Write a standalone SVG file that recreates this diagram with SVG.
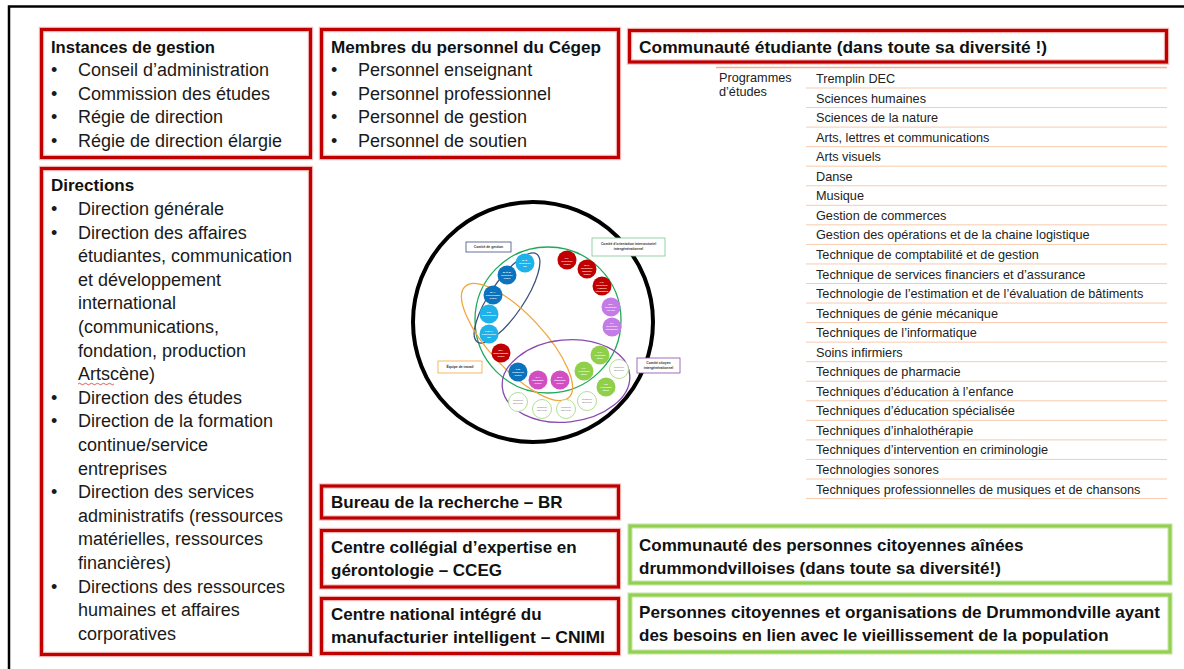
<svg xmlns="http://www.w3.org/2000/svg" width="1184" height="669" viewBox="0 0 1184 669">
<defs>
<style>
.halo{fill:none;stroke:#f3c3c3;stroke-width:5.5}
.red{fill:none;stroke:#c00000;stroke-width:3.2}
.ghalo{fill:none;stroke:#d6ecc2;stroke-width:5.5}
.green{fill:none;stroke:#92d050;stroke-width:3.2}
.t{font-family:"Liberation Sans",Arial,sans-serif;font-size:18px;fill:#1a1a1a}
.h{font-family:"Liberation Sans",Arial,sans-serif;font-size:17px;font-weight:bold;fill:#111}
.tb{font-family:"Liberation Sans",Arial,sans-serif;font-size:12.7px;fill:#222}
.sep{stroke:#f8cbad;stroke-width:1}
.mini{font-family:"Liberation Sans",Arial,sans-serif;font-size:2.5px;fill:#fff;text-anchor:middle;font-weight:bold}
.minid{font-family:"Liberation Sans",Arial,sans-serif;font-size:2.4px;fill:#666;text-anchor:middle}
.lab{font-family:"Liberation Sans",Arial,sans-serif;font-size:3.4px;fill:#333;text-anchor:middle;font-weight:bold}
</style>
</defs>
<rect width="1184" height="669" fill="#fff"/>
<path d="M9,669 V6.5 H1184" fill="none" stroke="#000" stroke-width="2.5"/>

<g id="instances">
<rect class="halo" x="41.5" y="29.5" width="269" height="128"/>
<rect class="red" x="41.5" y="29.5" width="269" height="128"/>
<text class="h" x="51" y="52.5" textLength="164" lengthAdjust="spacingAndGlyphs">Instances de gestion</text>
<g class="t">
<text x="51" y="76">•</text><text x="78" y="76">Conseil d’administration</text>
<text x="51" y="99.5">•</text><text x="78" y="99.5">Commission des études</text>
<text x="51" y="123">•</text><text x="78" y="123">Régie de direction</text>
<text x="51" y="146.5">•</text><text x="78" y="146.5">Régie de direction élargie</text>
</g>
</g>

<g id="directions">
<rect class="halo" x="41.5" y="168.5" width="269" height="486"/>
<rect class="red" x="41.5" y="168.5" width="269" height="486"/>
<text class="h" x="51" y="191">Directions</text>
<g class="t">
<text x="51" y="215">•</text><text x="78" y="215">Direction générale</text>
<text x="51" y="238.6">•</text><text x="78" y="238.6">Direction des affaires</text>
<text x="78" y="262.2">étudiantes, communication</text>
<text x="78" y="285.8">et développement</text>
<text x="78" y="309.4">international</text>
<text x="78" y="333">(communications,</text>
<text x="78" y="356.6">fondation, production</text>
<text x="78" y="380.2">Artscène)</text>
<text x="51" y="403.8">•</text><text x="78" y="403.8">Direction des études</text>
<text x="51" y="427.4">•</text><text x="78" y="427.4">Direction de la formation</text>
<text x="78" y="451">continue/service</text>
<text x="78" y="474.6">entreprises</text>
<text x="51" y="498.2">•</text><text x="78" y="498.2">Direction des services</text>
<text x="78" y="521.8">administratifs (ressources</text>
<text x="78" y="545.4">matérielles, ressources</text>
<text x="78" y="569">financières)</text>
<text x="51" y="592.6">•</text><text x="78" y="592.6">Directions des ressources</text>
<text x="78" y="616.2">humaines et affaires</text>
<text x="78" y="639.8">corporatives</text>
</g>
<path d="M78,384 q1.5,-1.5 3,0 t3,0 t3,0 t3,0 t3,0 t3,0 t3,0 t3,0 t3,0 t3,0 t3,0 t3,0" fill="none" stroke="#e03030" stroke-width="0.8"/>
</g>

<g id="membres">
<rect class="halo" x="321.5" y="29.5" width="297" height="128"/>
<rect class="red" x="321.5" y="29.5" width="297" height="128"/>
<text class="h" x="331" y="52.5" textLength="270" lengthAdjust="spacingAndGlyphs">Membres du personnel du Cégep</text>
<g class="t">
<text x="331" y="76">•</text><text x="358" y="76">Personnel enseignant</text>
<text x="331" y="99.5">•</text><text x="358" y="99.5">Personnel professionnel</text>
<text x="331" y="123">•</text><text x="358" y="123">Personnel de gestion</text>
<text x="331" y="146.5">•</text><text x="358" y="146.5">Personnel de soutien</text>
</g>
</g>

<g id="etudiants">
<rect class="halo" x="629.5" y="30.5" width="537" height="31.5"/>
<rect class="red" x="629.5" y="30.5" width="537" height="31.5"/>
<text class="h" x="639" y="52.5" textLength="408" lengthAdjust="spacingAndGlyphs">Communauté étudiante (dans toute sa diversité !)</text>
</g>

<g id="programmes">
<line x1="716" y1="67.5" x2="1167" y2="67.5" stroke="#f4b183" stroke-width="1.5"/>
<text class="tb" x="719" y="82">Programmes</text>
<text class="tb" x="719" y="96">d’études</text>
<g class="tb">
<text x="816" y="83">Tremplin DEC</text>
<text x="816" y="102.55">Sciences humaines</text>
<text x="816" y="122.1">Sciences de la nature</text>
<text x="816" y="141.65">Arts, lettres et communications</text>
<text x="816" y="161.2">Arts visuels</text>
<text x="816" y="180.75">Danse</text>
<text x="816" y="200.3">Musique</text>
<text x="816" y="219.85">Gestion de commerces</text>
<text x="816" y="239.4">Gestion des opérations et de la chaine logistique</text>
<text x="816" y="258.95">Technique de comptabilité et de gestion</text>
<text x="816" y="278.5">Technique de services financiers et d’assurance</text>
<text x="816" y="298.05">Technologie de l’estimation et de l’évaluation de bâtiments</text>
<text x="816" y="317.6">Techniques de génie mécanique</text>
<text x="816" y="337.15">Techniques de l’informatique</text>
<text x="816" y="356.7">Soins infirmiers</text>
<text x="816" y="376.25">Techniques de pharmacie</text>
<text x="816" y="395.8">Techniques d’éducation à l’enfance</text>
<text x="816" y="415.35">Techniques d’éducation spécialisée</text>
<text x="816" y="434.9">Techniques d’inhalothérapie</text>
<text x="816" y="454.45">Techniques d’intervention en criminologie</text>
<text x="816" y="474">Technologies sonores</text>
<text x="816" y="493.55">Techniques professionnelles de musiques et de chansons</text>
</g>
<g class="sep">
<line x1="806" y1="88" x2="1167" y2="88"/>
<line x1="806" y1="107.55" x2="1167" y2="107.55"/>
<line x1="806" y1="127.1" x2="1167" y2="127.1"/>
<line x1="806" y1="146.65" x2="1167" y2="146.65"/>
<line x1="806" y1="166.2" x2="1167" y2="166.2"/>
<line x1="806" y1="185.75" x2="1167" y2="185.75"/>
<line x1="806" y1="205.3" x2="1167" y2="205.3"/>
<line x1="806" y1="224.85" x2="1167" y2="224.85"/>
<line x1="806" y1="244.4" x2="1167" y2="244.4"/>
<line x1="806" y1="263.95" x2="1167" y2="263.95"/>
<line x1="806" y1="283.5" x2="1167" y2="283.5"/>
<line x1="806" y1="303.05" x2="1167" y2="303.05"/>
<line x1="806" y1="322.6" x2="1167" y2="322.6"/>
<line x1="806" y1="342.15" x2="1167" y2="342.15"/>
<line x1="806" y1="361.7" x2="1167" y2="361.7"/>
<line x1="806" y1="381.25" x2="1167" y2="381.25"/>
<line x1="806" y1="400.8" x2="1167" y2="400.8"/>
<line x1="806" y1="420.35" x2="1167" y2="420.35"/>
<line x1="806" y1="439.9" x2="1167" y2="439.9"/>
<line x1="806" y1="459.45" x2="1167" y2="459.45"/>
<line x1="806" y1="479" x2="1167" y2="479"/>
<line x1="806" y1="498.55" x2="1167" y2="498.55"/>
</g>
</g>

<g id="bureau">
<rect class="halo" x="321.5" y="486" width="297" height="32"/>
<rect class="red" x="321.5" y="486" width="297" height="32"/>
<text class="h" x="331" y="508">Bureau de la recherche – BR</text>
</g>
<g id="cceg">
<rect class="halo" x="321.5" y="530.5" width="297" height="56.5"/>
<rect class="red" x="321.5" y="530.5" width="297" height="56.5"/>
<text class="h" x="331" y="552.5">Centre collégial d’expertise en</text>
<text class="h" x="331" y="576">gérontologie – CCEG</text>
</g>
<g id="cnimi">
<rect class="halo" x="321.5" y="598.5" width="297" height="55"/>
<rect class="red" x="321.5" y="598.5" width="297" height="55"/>
<text class="h" x="331" y="619.5">Centre national intégré du</text>
<text class="h" x="331" y="643.3" textLength="274" lengthAdjust="spacingAndGlyphs">manufacturier intelligent – CNIMI</text>
</g>

<g id="aines">
<rect class="ghalo" x="630" y="526" width="540" height="57"/>
<rect class="green" x="630" y="526" width="540" height="57"/>
<text class="h" x="639" y="551">Communauté des personnes citoyennes aînées</text>
<text class="h" x="639" y="574">drummondvilloises (dans toute sa diversité!)</text>
</g>
<g id="drummondville">
<rect class="ghalo" x="630" y="595" width="540" height="57"/>
<rect class="green" x="630" y="595" width="540" height="57"/>
<text class="h" x="639" y="618" textLength="521" lengthAdjust="spacingAndGlyphs">Personnes citoyennes et organisations de Drummondville ayant</text>
<text class="h" x="639" y="641">des besoins en lien avec le vieillissement de la population</text>
</g>

<g id="cercle">
<circle cx="533" cy="322" r="120" fill="#fff" stroke="#000" stroke-width="4"/>
<g id="ellipses" fill="none" stroke-width="1.3">
<ellipse cx="548" cy="320" rx="73" ry="73" stroke="#1faa5a"/>
<ellipse cx="507" cy="298" rx="53" ry="17" transform="rotate(-56 507 298)" stroke="#3b4f7a"/>
<ellipse cx="517" cy="342" rx="76" ry="27" transform="rotate(47 517 342)" stroke="#f2a73a"/>
<ellipse cx="566" cy="381" rx="64" ry="41" transform="rotate(-6 566 381)" stroke="#8a4ab0"/>
</g>
<g id="labels">
<rect x="466" y="242" width="45" height="10" fill="#fff" stroke="#3b4f7a" stroke-width="0.8"/>
<text class="lab" x="488.5" y="248.3">Comité de gestion</text>
<rect x="592" y="238" width="73" height="18" fill="#fff" stroke="#7cc98f" stroke-width="0.8"/>
<text class="lab" x="628.5" y="245">Comité d’orientation intersectoriel</text>
<text class="lab" x="628.5" y="250">intergénérationnel</text>
<rect x="438" y="361" width="44" height="12" fill="#fff" stroke="#f2a73a" stroke-width="0.8"/>
<text class="lab" x="460" y="368.3">Équipe de travail</text>
<rect x="637" y="358" width="43" height="15" fill="#fff" stroke="#8a4ab0" stroke-width="0.8"/>
<text class="lab" x="658.5" y="364">Comité citoyen</text>
<text class="lab" x="658.5" y="369">intergénérationnel</text>
</g>
<g id="membres-cercle">
<circle cx="525" cy="263" r="9.5" fill="#1fb1ea"/>
<circle cx="507" cy="275" r="9.5" fill="#0b72bd"/>
<circle cx="493" cy="295" r="9.5" fill="#0b72bd"/>
<circle cx="489" cy="314" r="9.5" fill="#1fb1ea"/>
<circle cx="489" cy="334" r="9.5" fill="#1fb1ea"/>
<circle cx="501" cy="353" r="9.5" fill="#c00000"/>
<circle cx="518" cy="372" r="9.5" fill="#0b72bd"/>
<circle cx="538" cy="380" r="9.5" fill="#d24ec3"/>
<circle cx="560" cy="380" r="9.5" fill="#d24ec3"/>
<circle cx="567" cy="260" r="9.5" fill="#c00000"/>
<circle cx="587" cy="269" r="9.5" fill="#c00000"/>
<circle cx="602" cy="286" r="9.5" fill="#c00000"/>
<circle cx="611" cy="307" r="9.5" fill="#c47be6"/>
<circle cx="612" cy="327" r="9.5" fill="#c47be6"/>
<circle cx="600" cy="355" r="9.5" fill="#8fcf4a"/>
<circle cx="584" cy="371" r="9.5" fill="#8fcf4a"/>
<circle cx="606" cy="387" r="9.5" fill="#8fcf4a"/>
<g fill="#fff" stroke="#a9d98a" stroke-width="0.9">
<circle cx="619" cy="369" r="9.5"/>
<circle cx="518" cy="402" r="9.5"/>
<circle cx="542" cy="409" r="9.5"/>
<circle cx="566" cy="409" r="9.5"/>
<circle cx="587" cy="401" r="9.5"/>
</g>
<g class="mini">
<text x="525" y="261">M.-È.</text><text x="525" y="264">Directrice</text><text x="525" y="267">RE</text>
<text x="507" y="273">M.-È.B.</text><text x="507" y="276">Directrice</text><text x="507" y="279">CCEG</text>
<text x="493" y="293">M.-A.</text><text x="493" y="296">Chercheuse</text><text x="493" y="299">CCEG</text>
<text x="489" y="313">T.B.</text><text x="489" y="316">Chercheuse</text>
<text x="489" y="332">C.M.-L.</text><text x="489" y="335">Chercheuse</text><text x="489" y="338">BR</text>
<text x="501" y="351">M.L.</text><text x="501" y="354">Enseignante</text><text x="501" y="357">CCEG</text>
<text x="518" y="370">J.M.</text><text x="518" y="373">Conseiller</text><text x="518" y="376">CCEG</text>
<text x="538" y="378">G.A.</text><text x="538" y="381">Étudiante</text><text x="538" y="384">CCEG</text>
<text x="560" y="378">M.C.</text><text x="560" y="381">Étudiante</text><text x="560" y="384">CCEG</text>
<text x="567" y="259">P.L.</text><text x="567" y="262">Directeur</text><text x="567" y="265">CCEG</text>
<text x="587" y="266">M.C.</text><text x="587" y="269">Directrice</text><text x="587" y="272">adjointe</text><text x="587" y="275">CCEG</text>
<text x="602" y="283">F.C.</text><text x="602" y="286">Directrice</text><text x="602" y="289">Affaires</text><text x="602" y="292">étudiantes</text>
<text x="611" y="305">M.L.</text><text x="611" y="308">Directrice</text><text x="611" y="311">Vie col.</text>
<text x="612" y="324">F.L.</text><text x="612" y="327">Directeur</text><text x="612" y="330">intergénér.</text>
<text x="600" y="353">C.G.</text><text x="600" y="356">Personne</text><text x="600" y="359">aînée</text>
<text x="584" y="369">P.L.</text><text x="584" y="372">Personne</text><text x="584" y="375">aînée</text>
<text x="606" y="385">F.B.</text><text x="606" y="388">Personne</text><text x="606" y="391">aînée</text>
</g>
<g class="minid">
<text x="619" y="368">Personne</text><text x="619" y="371">citoyenne</text>
<text x="518" y="401">Personne</text><text x="518" y="404">citoyenne</text>
<text x="542" y="408">Personne</text><text x="542" y="411">citoyenne</text>
<text x="566" y="408">Personne</text><text x="566" y="411">citoyenne</text>
<text x="587" y="400">Personne</text><text x="587" y="403">citoyenne</text>
</g>
</g>
</g>
</svg>
